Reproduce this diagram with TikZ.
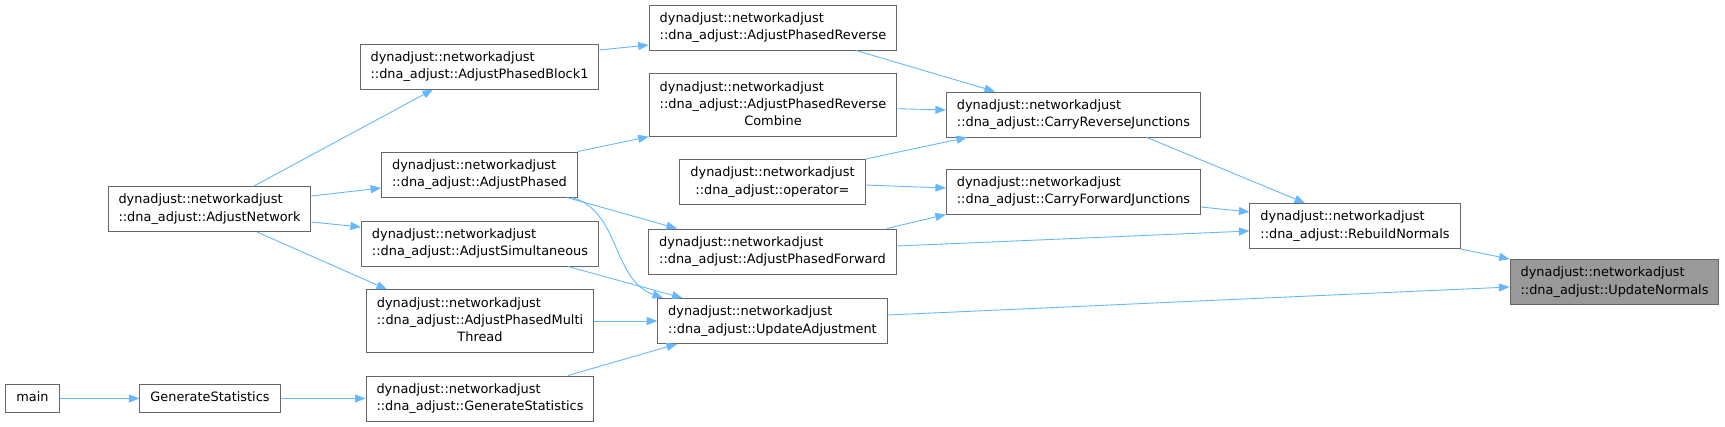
\documentclass[tikz,border=0pt]{standalone}
\usepackage{fontspec}
\setmainfont{DejaVu Sans}
\usetikzlibrary{arrows.meta}
\definecolor{callblue}{HTML}{63B8FF}
\definecolor{boxgrey}{HTML}{666666}
\definecolor{focusgrey}{HTML}{999999}
\newcommand{\dnans}{dynadjust::networkadjust}
\newcommand{\oneline}[1]{\begin{tabular}{@{}l@{}}#1\end{tabular}}
\newcommand{\twoline}[1]{\begin{tabular}{@{}l@{}}\dnans\\::dna\_adjust::#1\end{tabular}}
\newcommand{\threeline}[2]{\begin{tabular}{@{}l@{}}\dnans\\::dna\_adjust::#1\\\multicolumn{1}{@{}c@{}}{#2}\end{tabular}}

\begin{document}
\begin{tikzpicture}[x=1pt, y=-1pt, >={Triangle[length=10.5pt,width=8pt]},
                    every node/.style={font=\fontsize{12.9pt}{17.3pt}\selectfont},
                    fn/.style={draw=boxgrey, line width=1pt, fill=white,
                               inner xsep=10.5pt, inner ysep=5.2pt},
                    fnhl/.style={fn, fill=focusgrey},
                    call/.style={callblue, line width=0.9pt, ->}]

\useasboundingbox (0,0) rectangle (1725,426);

%% ==== callers, left to right ====
\node[fn] (main)   at (32.5,398.5) {\oneline{main}};
\node[fn] (genStat) at (210,398.5) {\oneline{GenerateStatistics}};
\node[fn] (adjNetwork) at (209.5,209) {\twoline{AdjustNetwork}};

\node[fn] (phasedBlock1) at (479.5,66.5)  {\twoline{AdjustPhasedBlock1}};
\node[fn] (adjPhased)    at (479.5,174.5) {\twoline{AdjustPhased}};
\node[fn] (adjSimult)    at (480,243.5)   {\twoline{AdjustSimultaneous}};
\node[fn] (phasedMulti)  at (480,321)     {\threeline{AdjustPhasedMulti}{Thread}};
\node[fn] (dnaGenStat)   at (480,398.5)   {\twoline{GenerateStatistics}};

\node[fn] (phasedRev)     at (773,27.5)  {\twoline{AdjustPhasedReverse}};
\node[fn] (phasedRevComb) at (773,105)   {\threeline{AdjustPhasedReverse}{Combine}};
\node[fn] (opAssign)      at (772.5,182) {\begin{tabular}{@{}c@{}}\dnans\\::dna\_adjust::operator=\end{tabular}};
\node[fn] (phasedFwd)     at (772.5,251.5) {\twoline{AdjustPhasedForward}};
\node[fn] (updateAdj)     at (772.5,321)   {\twoline{UpdateAdjustment}};

\node[fn] (carryRev) at (1073.5,114.5) {\twoline{CarryReverseJunctions}};
\node[fn] (carryFwd) at (1073.5,191.5) {\twoline{CarryForwardJunctions}};
\node[fn] (rebuildN) at (1355,226)     {\twoline{RebuildNormals}};

%% the function this graph is for
\node[fnhl] (updateN) at (1614.5,282) {\twoline{UpdateNormals}};

%% ==== calls ====
\draw[call] (main.east) -- (genStat.west);
\draw[call] (genStat.east) -- (dnaGenStat.west);

\draw[call] ([xshift=44.5pt]adjNetwork.north) -- ([xshift=-46.5pt]phasedBlock1.south);
\draw[call] ([yshift=13pt]adjNetwork.east) -- ([yshift=-13.5pt]adjPhased.west);
\draw[call] ([yshift=-13pt]adjNetwork.east) -- ([yshift=16.5pt]adjSimult.west);
\draw[call] ([xshift=47.5pt]adjNetwork.south) -- ([xshift=-93pt]phasedMulti.north);

\draw[call] ([yshift=16.5pt]phasedBlock1.east) -- ([yshift=-17.5pt]phasedRev.west);
\draw[call] (adjPhased.north east) -- (phasedRevComb.south west);
\draw[call] ([xshift=87.5pt]adjPhased.south) -- ([xshift=-95.5pt]phasedFwd.north);
\draw[call] ([xshift=92pt]adjPhased.south) .. controls (620,210) and (612,280) .. ([xshift=-109.5pt]updateAdj.north);
\draw[call] ([xshift=88pt]adjSimult.south) -- ([xshift=-90pt]updateAdj.north);
\draw[call] (phasedMulti.east) -- (updateAdj.west);
\draw[call] ([xshift=88pt]dnaGenStat.north) -- ([xshift=-95.5pt]updateAdj.south);

\draw[call] ([xshift=83pt]phasedRev.south) -- ([xshift=-78.5pt]carryRev.north);
\draw[call] ([yshift=-3.7pt]phasedRevComb.east) -- ([yshift=4.5pt]carryRev.west);
\draw[call] (opAssign.north east) -- ([xshift=-106.5pt]carryRev.south);
\draw[call] ([yshift=-3pt]opAssign.east) -- ([yshift=3.5pt]carryFwd.west);
\draw[call] ([xshift=-10pt]phasedFwd.north east) -- (carryFwd.south west);
\draw[call] ([yshift=5.5pt]phasedFwd.east) -- ([yshift=-5pt]rebuildN.west);

\draw[call] ([xshift=73.5pt]carryRev.south) -- ([xshift=-50pt]rebuildN.north);
\draw[call] ([yshift=-15.5pt]carryFwd.east) -- ([yshift=14pt]rebuildN.west);

\draw[call] (rebuildN.south east) -- (updateN.north west);
\draw[call] ([yshift=6pt]updateAdj.east) -- ([yshift=-5pt]updateN.west);

\end{tikzpicture}
\end{document}
